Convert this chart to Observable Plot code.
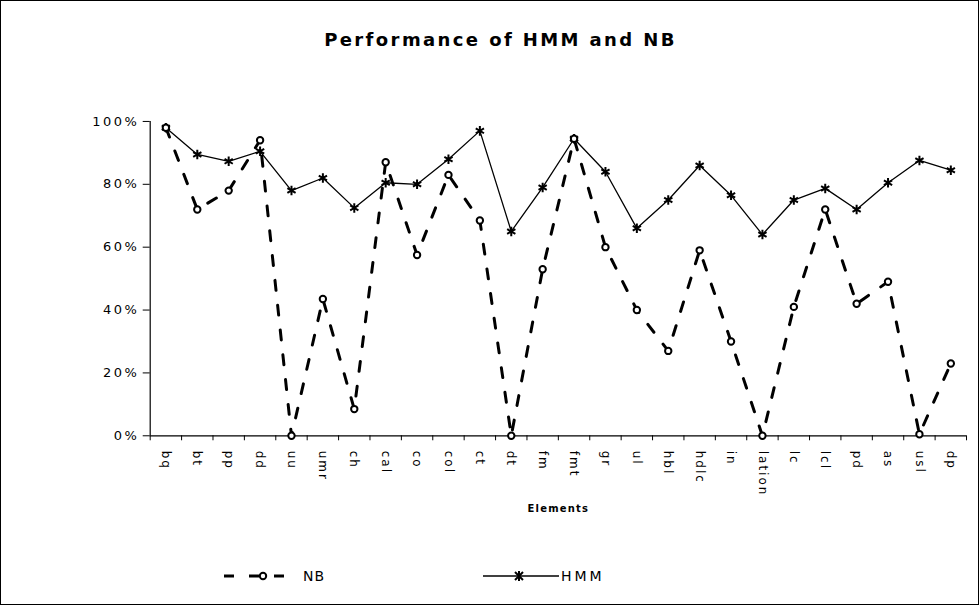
<!DOCTYPE html>
<html>
<head>
<meta charset="utf-8">
<script src="https://cdn.jsdelivr.net/npm/d3@7"></script>
<script src="https://cdn.jsdelivr.net/npm/@observablehq/plot@0.6"></script>
<style>
  html, body { margin: 0; padding: 0; background: #fff; }
  #wrap { position: relative; width: 979px; height: 605px; box-sizing: border-box; border: 1px solid #000; font-family: "DejaVu Sans", Verdana, sans-serif; overflow: hidden; background: #fff; }
  #title { position: absolute; left: 20px; width: 959px; top: 28px; text-align: center; font-weight: bold; font-size: 18px; letter-spacing: 2.4px; color: #000; }
  #chart { position: absolute; left: 0; top: 90px; }
  #chart g[aria-label="y-axis tick label"] text { letter-spacing: 2.5px; }
  #chart g[aria-label="x-axis tick label"] text { letter-spacing: 2px; }
  #chart g[aria-label="text"] text { letter-spacing: 1.2px; }
  .lg { position: absolute; top: 563px; display: flex; align-items: center; height: 24px; font-size: 14px; color: #000; }
</style>
</head>
<body>
<div id="wrap">
  <div id="title">Performance of HMM and NB</div>
  <div id="chart"></div>
  <div class="lg" style="left:222px">
    <svg width="62" height="24"><line x1="1" y1="12" x2="61" y2="12" stroke="#000" stroke-width="3" stroke-dasharray="10,15"/><circle cx="40" cy="12" r="3.2" fill="#fff" stroke="#000" stroke-width="2"/></svg>
    <span style="margin-left:18px; letter-spacing:1px">NB</span>
  </div>
  <div class="lg" style="left:482px">
    <svg width="76" height="24"><line x1="0" y1="12" x2="76" y2="12" stroke="#000" stroke-width="1.3"/><path d="M32,8L40,16M40,8L32,16M36,7L36,17" stroke="#000" stroke-width="2"/></svg>
    <span style="margin-left:2px; letter-spacing:3px">HMM</span>
  </div>
</div>
<script>
const categories = ["bq","bt","pp","dd","uu","umr","ch","cal","co","col","ct","dt","fm","fmt","gr","ul","hbl","hdlc","in","lation","lc","lcl","pd","as","usl","dp"];
const nbValues  = [0.98,0.72,0.78,0.94,0.00,0.435,0.085,0.87,0.575,0.83,0.685,0.00,0.53,0.945,0.60,0.40,0.27,0.59,0.30,0.00,0.41,0.72,0.42,0.49,0.005,0.23];
const hmmValues = [0.98,0.895,0.873,0.905,0.78,0.82,0.725,0.805,0.80,0.88,0.97,0.65,0.79,0.945,0.84,0.66,0.75,0.86,0.765,0.64,0.75,0.787,0.72,0.805,0.876,0.845];
const yTicks = [0, 0.2, 0.4, 0.6, 0.8, 1];

const data = categories.map((c, i) => ({i, c, nb: nbValues[i], hmm: hmmValues[i]}));
const n = categories.length;

const chart = Plot.plot({
  width: 979,
  height: 450,
  marginLeft: 149,
  marginRight: 12,
  marginTop: 30,
  marginBottom: 105,
  style: {fontFamily: "DejaVu Sans, Verdana, sans-serif", color: "#000", background: "transparent"},
  x: {type: "linear", domain: [-0.5, n - 0.5]},
  y: {domain: [0, 1]},
  marks: [
    Plot.axisY(yTicks, {tickSize: 7, tickPadding: 4, tickFormat: d3.format(".0%"), fontSize: 13, label: null}),
    Plot.ruleX([-0.5], {stroke: "#000", strokeWidth: 1.2}),
    Plot.ruleY([0], {stroke: "#000", strokeWidth: 1.2}),
    Plot.axisX(d3.range(n + 1).map(k => k - 0.5), {tickSize: 5, tickFormat: () => "", label: null}),
    Plot.axisX(d3.range(n), {tickSize: 0, tickPadding: 15, tickRotate: 90, tickFormat: k => categories[k], fontSize: 12, label: null}),
    Plot.text(["Elements"], {frameAnchor: "bottom", dy: 76, fontSize: 10, fontWeight: "bold", text: d => d}),
    Plot.line(data, {x: "i", y: "hmm", stroke: "#000", strokeWidth: 1.3}),
    Plot.dot(data, {x: "i", y: "hmm", symbol: "asterisk", r: 4.5, stroke: "#000", strokeWidth: 2}),
    Plot.line(data, {x: "i", y: "nb", stroke: "#000", strokeWidth: 3, strokeDasharray: "10,15"}),
    Plot.dot(data, {x: "i", y: "nb", symbol: "circle", r: 3.2, fill: "#fff", stroke: "#000", strokeWidth: 2})
  ]
});
document.getElementById("chart").appendChild(chart);
</script>
</body>
</html>
